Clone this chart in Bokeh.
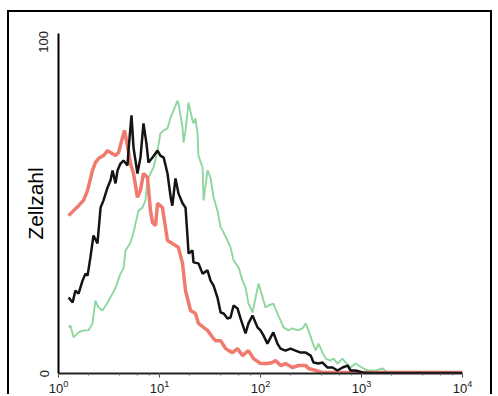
from bokeh.plotting import figure
from bokeh.models import FixedTicker, LogTicker, Range1d
from bokeh.embed import file_html
from bokeh.resources import INLINE

# Fluorescence intensity (log scale) and cell counts
red_x = [1.26, 1.41, 1.58, 1.77, 1.94, 2.17, 2.32, 2.49, 2.79, 3.06, 3.27, 3.67, 3.93, 4.30, 4.50,
         4.82, 5.16, 5.53, 6.05, 6.48, 6.94, 7.60, 8.14, 8.53, 9.13, 9.56, 10.7, 11.5, 12.0, 13.4,
         14.4, 15.4, 16.9, 18.1, 20.3, 22.7, 24.3, 27.3, 29.9, 33.5, 35.9, 40.3, 45.2, 48.4, 52.8,
         59.2, 66.3, 76.0, 85.3, 100, 117, 131, 141, 158, 177, 207, 238, 280, 299, 352, 411, 622,
         1540, 3840, 10000]
red_y = [47.6, 49.1, 50.6, 52.2, 55.2, 61.2, 63.6, 64.8, 65.7, 67.2, 66.6, 65.7, 66.6, 71.1, 73.3,
         68.7, 63.3, 60.3, 53.1, 55.2, 60.3, 59.1, 49.1, 45.5, 44.6, 51.3, 50.0, 43.7, 40.1, 39.2,
         38.6, 38.0, 33.2, 25.0, 19.0, 18.1, 15.1, 13.9, 13.0, 10.9, 9.9, 9.9, 7.5, 6.9, 6.3,
         7.5, 5.4, 6.9, 4.5, 3.0, 3.0, 3.3, 3.9, 2.4, 3.0, 1.8, 2.4, 2.4, 1.5, 0.9, 0.3, 0.3,
         0.3, 0.3, 0.3]

black_x = [1.26, 1.38, 1.47, 1.58, 1.73, 1.85, 1.94, 2.07, 2.22, 2.43, 2.61, 2.79, 3.06, 3.27, 3.43,
           3.67, 3.84, 4.11, 4.40, 4.82, 4.93, 5.28, 5.53, 6.05, 6.48, 6.94, 7.43, 7.78, 8.53, 9.56,
           10.2, 11.0, 12.0, 12.9, 13.4, 14.4, 15.4, 16.9, 18.1, 18.9, 19.4, 21.2, 21.7, 24.3, 26.7,
           29.9, 32.0, 34.3, 37.5, 40.3, 43.2, 47.1, 50.5, 54.1, 59.2, 63.4, 71.1, 76.0, 83.4, 93.4,
           100, 107, 117, 126, 134, 147, 158, 177, 198, 222, 250, 280, 314, 335, 375,
           411, 461, 516, 578, 649, 727, 781, 875, 1023, 1285, 3840, 10000]
black_y = [22.9, 21.4, 25.0, 24.1, 28.0, 30.1, 29.5, 35.0, 41.6, 39.2, 50.0, 52.2, 56.1, 58.2, 61.2,
           57.3, 61.2, 63.3, 64.2, 62.7, 67.2, 77.8, 68.1, 60.3, 65.1, 75.4, 69.3, 63.6, 65.1, 67.2,
           65.7, 65.1, 60.3, 53.1, 50.6, 58.8, 54.3, 51.3, 50.0, 41.6, 36.2, 37.1, 33.5, 33.2, 30.1,
           31.1, 28.0, 26.5, 22.9, 18.4, 18.1, 16.6, 16.9, 20.5, 19.6, 16.6, 12.1, 15.1, 17.5, 13.9,
           13.0, 11.5, 9.0, 10.9, 12.4, 9.0, 7.5, 6.9, 7.5, 6.9, 6.3, 6.3, 5.4, 3.3, 3.0,
           3.3, 1.8, 1.8, 0.9, 1.8, 2.4, 0.9, 0.9, 0.3, 0.15, 0.15, 0.15]

green_x = [1.26, 1.31, 1.41, 1.58, 1.77, 1.98, 2.17, 2.32, 2.49, 2.73, 3.06, 3.43, 3.67, 4.11, 4.40,
           4.61, 5.16, 5.53, 6.19, 6.78, 7.26, 7.60, 8.14, 8.73, 9.56, 10.2, 11.0, 12.0, 12.9, 13.8,
           15.1, 15.4, 16.9, 17.3, 18.1, 19.4, 21.2, 21.7, 22.7, 23.8, 24.3, 26.7, 27.3, 29.9, 32.0,
           34.3, 37.5, 40.3, 42.2, 47.1, 50.5, 54.1, 60.7, 66.3, 71.1, 76.0, 83.4, 89.4, 95.6, 105,
           112, 120, 134, 147, 158, 169, 189, 207, 232, 261, 280, 299, 328, 352, 375,
           411, 442, 495, 529, 580, 649, 697, 781, 875, 935, 1050, 1170, 1380, 1620, 1820,
           2440, 3420, 10000]
green_y = [13.9, 14.5, 10.9, 12.4, 13.0, 13.0, 15.1, 22.0, 19.9, 19.0, 21.4, 24.1, 25.9, 30.1, 31.7,
           37.1, 39.5, 42.5, 49.1, 50.0, 52.2, 58.2, 60.3, 62.1, 67.2, 72.4, 73.3, 73.9, 77.2, 79.3,
           82.3, 81.4, 74.2, 69.6, 73.3, 81.7, 76.3, 75.4, 76.9, 72.4, 65.7, 62.1, 52.2, 61.2, 59.1,
           53.1, 49.1, 44.0, 43.1, 40.1, 38.0, 34.1, 32.0, 28.0, 25.9, 21.1, 18.4, 22.9, 27.1, 22.9,
           19.9, 20.5, 21.1, 18.1, 16.0, 13.9, 13.0, 13.6, 13.0, 13.6, 15.1, 13.0, 9.3, 6.9, 9.0,
           6.3, 4.5, 3.9, 4.5, 3.0, 4.5, 3.3, 1.8, 3.0, 2.4, 1.5, 0.9, 0.9, 1.5, 0.3,
           0.3, 0.15, 0.1]

y_ticks = [0, 100]
y_label = "Zellzahl"

FONT = "Liberation Sans"

p = figure(width=485, height=384, x_axis_type="log",
           x_range=Range1d(1, 10000), y_range=Range1d(0, 102.5),
           output_backend="svg", toolbar_location=None,
           min_border_left=49, min_border_right=32, min_border_top=21, min_border_bottom=23)
p.styles = {"margin-left": "7px", "margin-top": "10px",
            "border-left": "2px solid black", "border-top": "2px solid black",
            "border-right": "2px solid black"}
p.xgrid.visible = False
p.ygrid.visible = False
p.outline_line_color = None
p.background_fill_color = "white"
p.border_fill_color = "white"

p.line(green_x, green_y, line_color="#8fd6a0", line_width=1.9)
p.line(red_x, red_y, line_color="#f07a6e", line_width=3.5)
p.line(black_x, black_y, line_color="#141414", line_width=2.5)

xa = p.xaxis[0]
xa.ticker = LogTicker()
xa.axis_line_width = 2
xa.axis_line_color = "#222222"
xa.major_tick_out = 4
xa.major_tick_in = 0
xa.minor_tick_out = 2
xa.minor_tick_in = 0
xa.major_tick_line_color = "#444444"
xa.minor_tick_line_color = "#666666"
xa.major_label_standoff = 2
xa.major_label_text_font = FONT
xa.major_label_text_font_size = "13px"
xa.major_label_text_color = "#222222"

ya = p.yaxis[0]
ya.ticker = FixedTicker(ticks=y_ticks, minor_ticks=[])
ya.axis_line_width = 2
ya.axis_line_color = "black"
ya.major_tick_out = 0
ya.major_tick_in = 0
ya.minor_tick_out = 0
ya.minor_tick_in = 0
ya.major_label_orientation = "vertical"
ya.major_label_standoff = 10
ya.major_label_text_font = FONT
ya.major_label_text_font_size = "13px"
ya.major_label_text_color = "#222222"
ya.axis_label = y_label
ya.axis_label_text_font = FONT
ya.axis_label_text_font_size = "21px"
ya.axis_label_text_font_style = "normal"
ya.axis_label_text_color = "black"
ya.axis_label_standoff = -10

open("out.html", "w").write(file_html(p, INLINE))
